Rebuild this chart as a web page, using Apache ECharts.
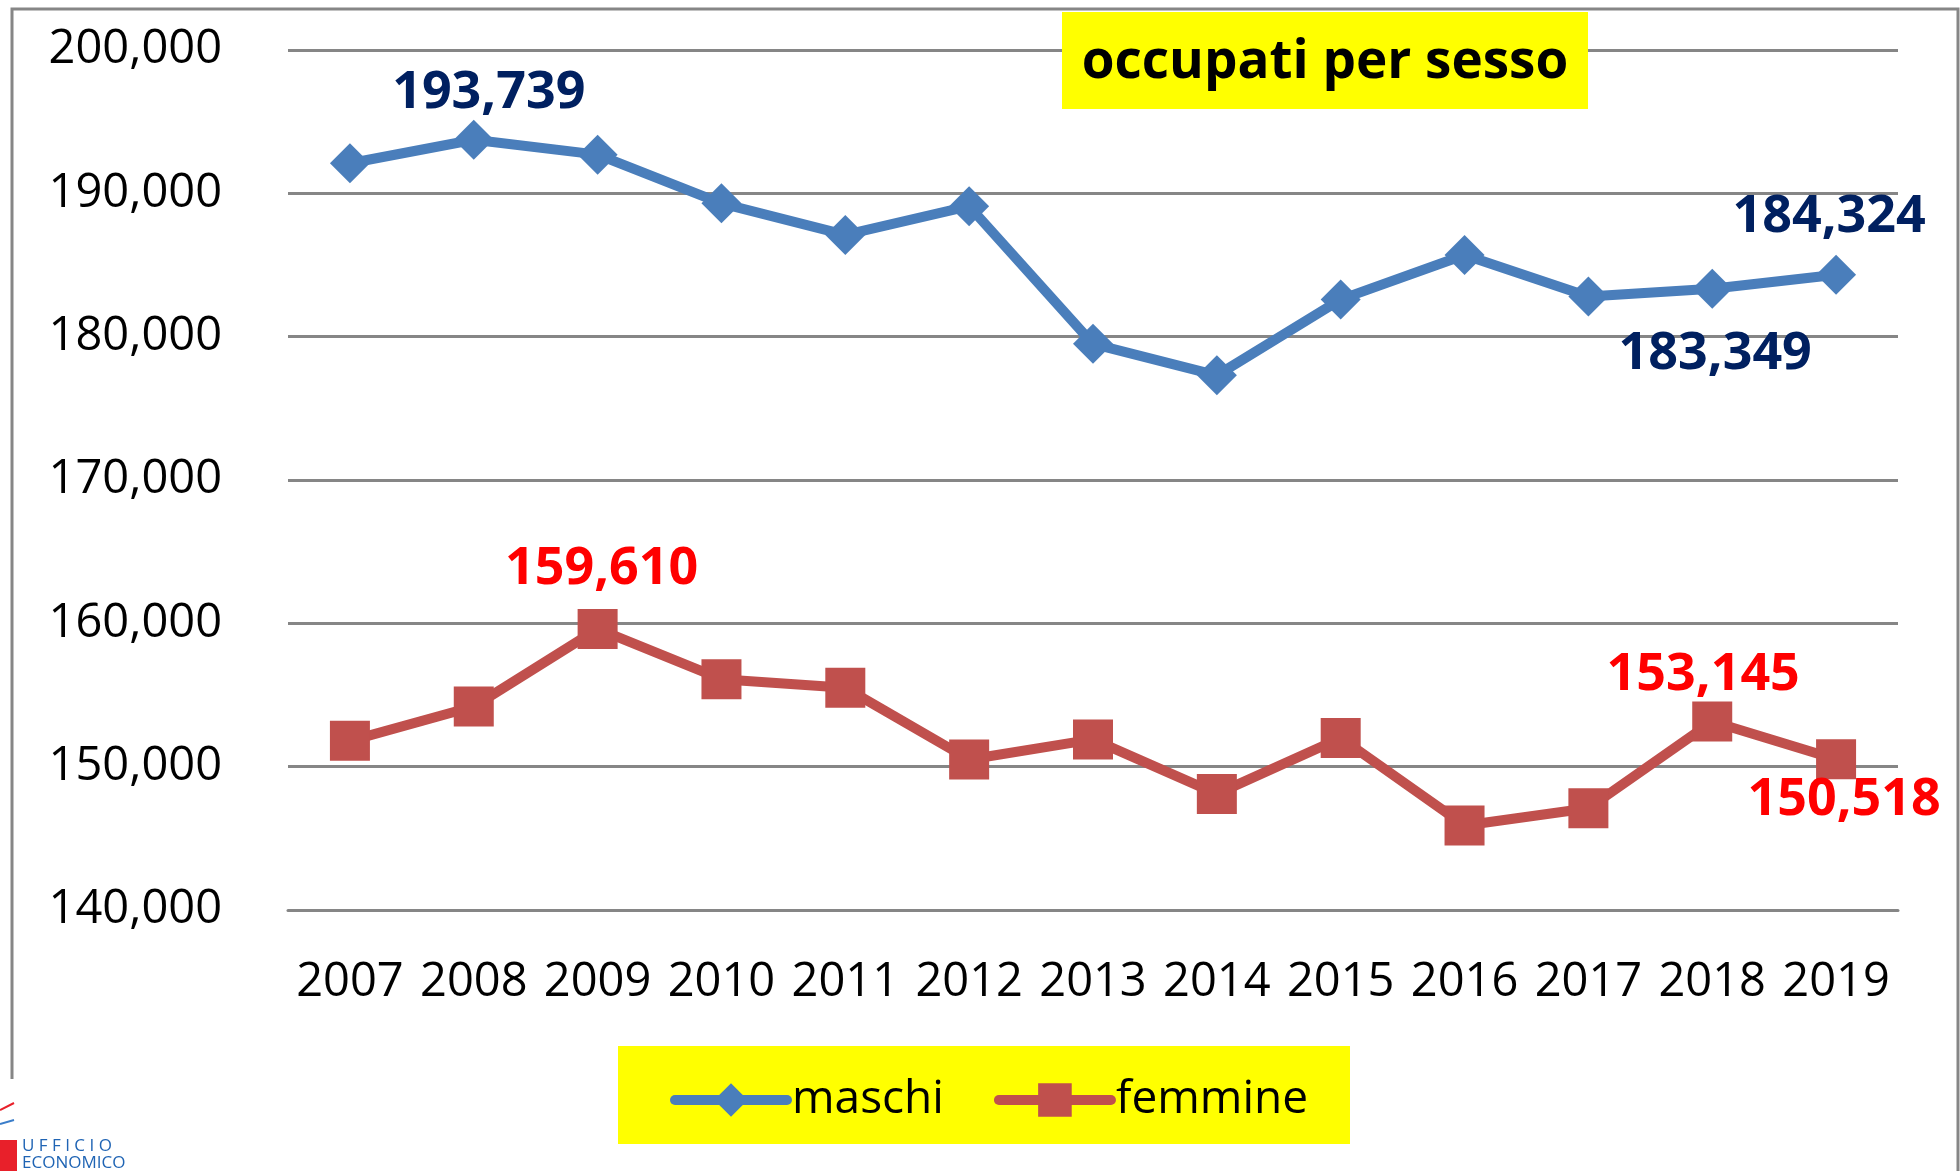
<!DOCTYPE html>
<html>
<head>
<meta charset="utf-8">
<script src="https://cdn.jsdelivr.net/npm/echarts@6/dist/echarts.min.js"></script>
<style>
  html, body { margin: 0; padding: 0; background: #fff; }
  #main { width: 1960px; height: 1171px; }
</style>
</head>
<body>
<div id="main"></div>
<script>
var anni = ['2007', '2008', '2009', '2010', '2011', '2012', '2013', '2014', '2015', '2016', '2017', '2018', '2019'];
var maschi = [192100, 193739, 192700, 189300, 187100, 189100, 179500, 177300, 182600, 185700, 182800, 183349, 184324];
var femmine = [151800, 154200, 159610, 156100, 155500, 150500, 151900, 148100, 152000, 145900, 147100, 153145, 150518];
var yTicks = [140000, 150000, 160000, 170000, 180000, 190000, 200000];

// which points get a value label, and where it sits relative to the marker
var labelM = { 1: [15, -47], 11: [3, 66], 12: [-7, -58] };
var labelF = { 2: [4, -60], 11: [-9, -46], 12: [8, 41] };

var font = '"Open Sans", "Liberation Sans", sans-serif';
var grigio = '#868686';

function fmt(v) {
  return Number(v).toLocaleString('en-US');
}

function buildData(values, labels, color) {
  return values.map(function (v, i) {
    if (!labels[i]) return v;
    return {
      value: v,
      label: {
        show: true,
        position: 'inside',
        offset: labels[i],
        formatter: function (p) { return fmt(p.value); },
        color: color,
        fontFamily: font,
        fontWeight: 'bold',
        fontSize: 52
      }
    };
  });
}

var chart = echarts.init(document.getElementById('main'));
var option = {
  animation: false,
  backgroundColor: '#fff',
  grid: { left: 288, right: 62, top: 50, bottom: 261 },
  xAxis: {
    type: 'category',
    data: anni,
    boundaryGap: true,
    axisLine: { show: true, lineStyle: { color: grigio, width: 3 } },
    axisTick: { show: false },
    axisLabel: { color: '#000', fontFamily: font, fontSize: 47, margin: 49, interval: 0 }
  },
  yAxis: {
    type: 'value',
    min: yTicks[0],
    max: yTicks[yTicks.length - 1],
    interval: 10000,
    axisLine: { show: false },
    axisTick: { show: false },
    splitLine: { lineStyle: { color: grigio, width: 3 } },
    axisLabel: { color: '#000', fontFamily: font, fontSize: 47, margin: 66, formatter: fmt }
  },
  legend: {
    left: 665,
    top: 1072,
    itemWidth: 112,
    itemHeight: 42,
    itemGap: 50,
    lineStyle: { width: 10, cap: 'round' },
    textStyle: { color: '#000', fontFamily: font, fontSize: 46 },
    data: ['maschi', 'femmine']
  },
  graphic: [
    { type: 'rect', z: -1, shape: { x: 12, y: 9, width: 1946, height: 1200 },
      style: { fill: 'none', stroke: grigio, lineWidth: 3 } },
    { type: 'rect', z: 1, shape: { x: 618, y: 1046, width: 732, height: 98 },
      style: { fill: '#ffff00' } },
    { type: 'rect', z: 10, shape: { x: 1062, y: 12, width: 526, height: 97 },
      style: { fill: '#ffff00' } },
    { type: 'text', z: 11, x: 1325, y: 63,
      style: { text: 'occupati per sesso', font: 'bold 53px ' + font, fill: '#000',
               textAlign: 'center', textVerticalAlign: 'middle' } },
    // logo
    { type: 'rect', z: 20, shape: { x: 0, y: 1079, width: 147, height: 92 },
      style: { fill: '#fff' } },
    { type: 'line', z: 21, shape: { x1: 0, y1: 1110, x2: 14, y2: 1103 },
      style: { stroke: '#e8202a', lineWidth: 2 } },
    { type: 'line', z: 21, shape: { x1: 0, y1: 1124, x2: 14, y2: 1120 },
      style: { stroke: '#3a7dc9', lineWidth: 2 } },
    { type: 'rect', z: 21, shape: { x: 0, y: 1140, width: 17, height: 31 },
      style: { fill: '#e8202a' } },
    { type: 'text', z: 22, x: 22, y: 1146,
      style: { text: 'U F F I C I O', font: '17px ' + font, fill: '#1f64b4',
               textVerticalAlign: 'middle' } },
    { type: 'text', z: 22, x: 22, y: 1163,
      style: { text: 'ECONOMICO', font: '17px ' + font, fill: '#1f64b4',
               textVerticalAlign: 'middle' } }
  ],
  series: [
    {
      name: 'maschi',
      type: 'line',
      data: buildData(maschi, labelM, '#002060'),
      symbol: 'diamond',
      symbolSize: 40,
      color: '#4a7ebb',
      lineStyle: { width: 10, color: '#4a7ebb' },
      itemStyle: { color: '#4a7ebb' },
      emphasis: { disabled: true },
      z: 3
    },
    {
      name: 'femmine',
      type: 'line',
      data: buildData(femmine, labelF, '#ff0000'),
      symbol: 'rect',
      symbolSize: 40,
      color: '#c0504d',
      lineStyle: { width: 10, color: '#c0504d' },
      itemStyle: { color: '#c0504d' },
      emphasis: { disabled: true },
      z: 3
    }
  ]
};
chart.setOption(option);
</script>
</body>
</html>
